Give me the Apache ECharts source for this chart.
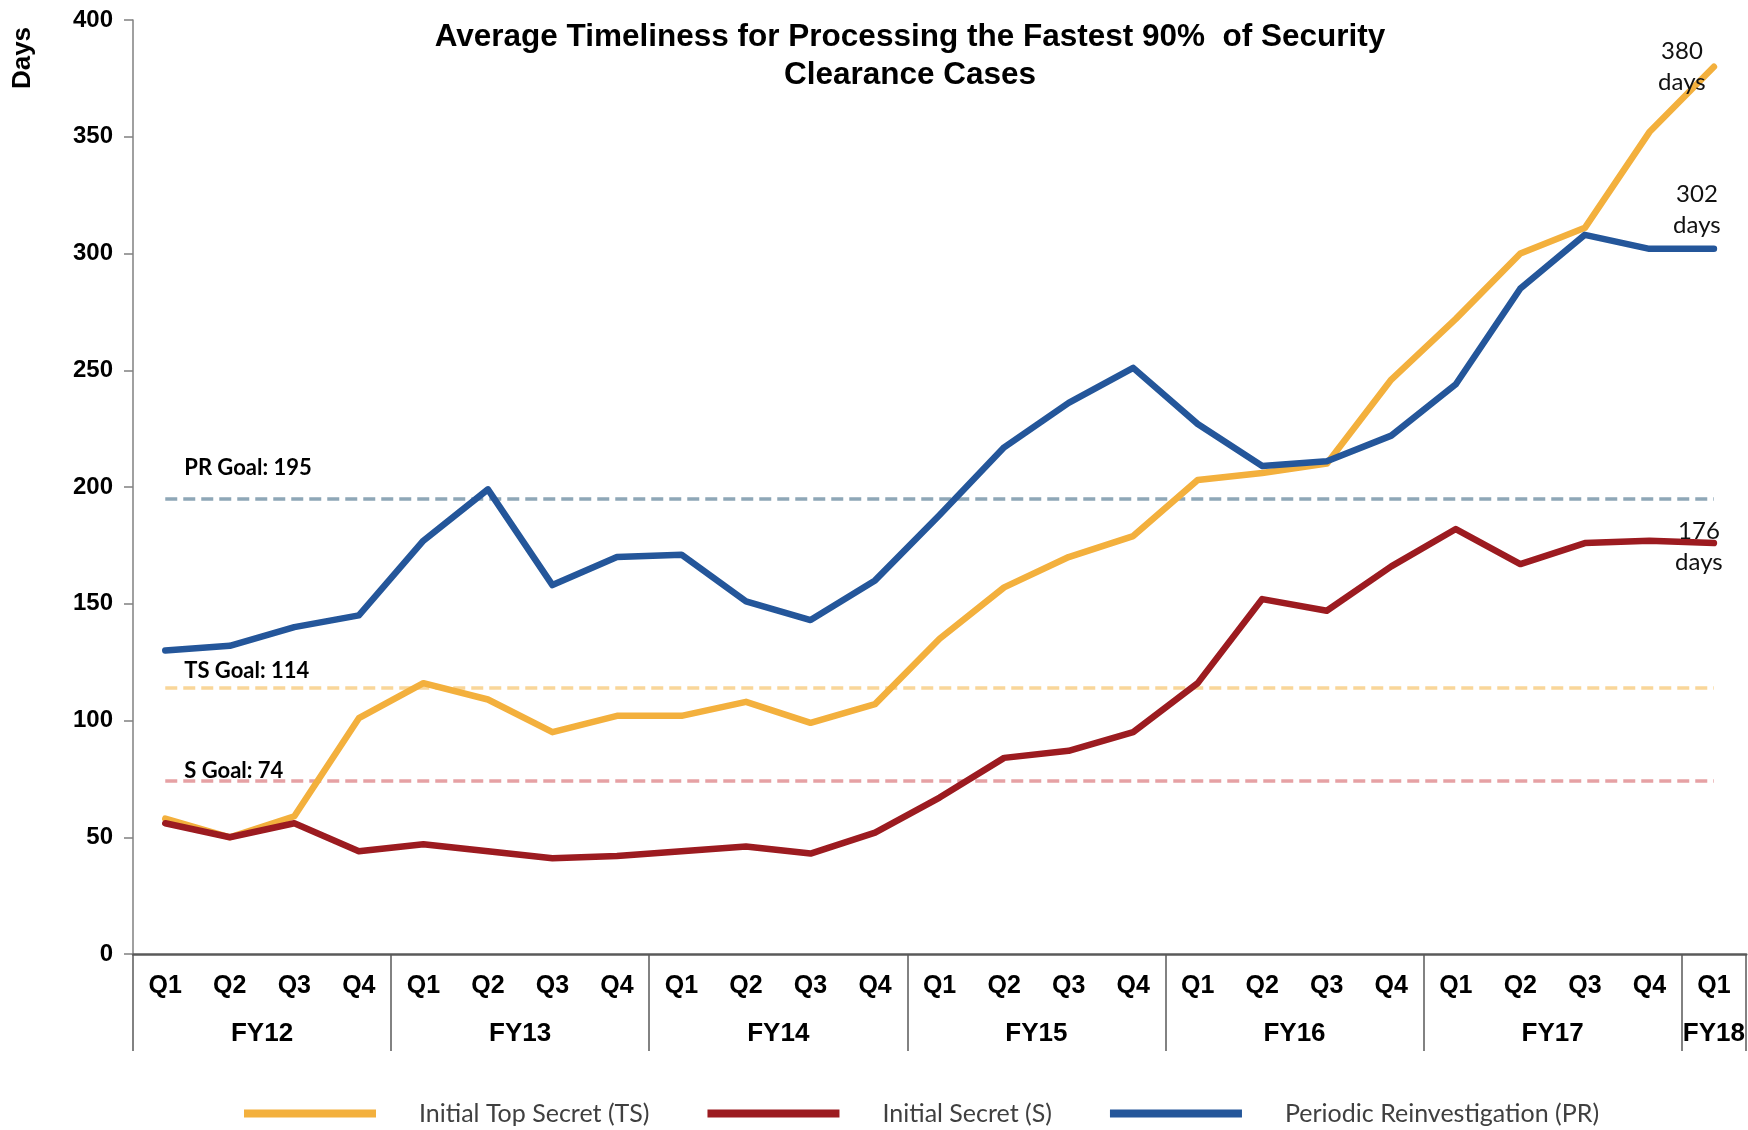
<!DOCTYPE html>
<html><head><meta charset="utf-8">
<script src="https://cdn.jsdelivr.net/npm/echarts@6/dist/echarts.min.js"></script>
<style>html,body{margin:0;padding:0;background:#fff}#c{width:1748px;height:1130px}</style>
</head><body><div id="c"></div>
<script>
const quarters = ['Q1','Q2','Q3','Q4','Q1','Q2','Q3','Q4','Q1','Q2','Q3','Q4','Q1','Q2','Q3','Q4','Q1','Q2','Q3','Q4','Q1','Q2','Q3','Q4','Q1'];
const fiscalYears = ['FY12','FY13','FY14','FY15','FY16','FY17','FY18'];
const quartersPerYear = [4,4,4,4,4,4,1];
const yTicks = [0,50,100,150,200,250,300,350,400];
const seriesNames = ['Initial Top Secret (TS)','Initial Secret (S)','Periodic Reinvestigation (PR)'];
const tsDays = [58,50,59,101,116,109,95,102,102,108,99,107,135,157,170,179,203,206,210,246,272,300,311,352,380];
const sDays  = [56,50,56,44,47,44,41,42,44,46,43,52,67,84,87,95,116,152,147,166,182,167,176,177,176];
const prDays = [130,132,140,145,177,199,158,170,171,151,143,160,188,217,236,251,227,209,211,222,244,285,308,302,302];
const goalLabels = ['TS Goal: 114','S Goal: 74','PR Goal: 195'];
const goalValues = [114,74,195];
const endLabels = ['380\ndays','176\ndays','302\ndays'];
const titleText = 'Average Timeliness for Processing the Fastest 90%  of Security\nClearance Cases';

const colors = ['#F3B03D','#9C1B20','#24569A'];
const goalColors = ['#F9D699','#E6A1A4','#8EA7B7'];
const boldFont = '"Liberation Sans", Arial, sans-serif';
const calFont = 'Lato, "Open Sans", sans-serif';

// group boundaries and centers for fiscal-year axis
const boundaries = [0]; const centers = [];
quartersPerYear.forEach(n => { const s = boundaries[boundaries.length-1]; centers.push(s + n/2); boundaries.push(s + n); });
const nCat = quarters.length;

const chart = echarts.init(document.getElementById('c'));
const allData = [tsDays, sDays, prDays];
const series = allData.map((d, i) => ({
  name: seriesNames[i], type: 'line', data: d, xAxisIndex: 0, yAxisIndex: 0,
  showSymbol: false, symbol: 'none', z: 5,
  lineStyle: { color: colors[i], width: 6.5, cap: 'round', join: 'round' },
  itemStyle: { color: colors[i] },
  markLine: {
    silent: true, symbol: 'none', z: 2,
    label: { show: false },
    lineStyle: { color: goalColors[i], type: [12, 6], width: 3.5 },
    data: [[{ coord: [0, goalValues[i]] }, { coord: [nCat - 1, goalValues[i]] }]]
  }
}));

chart.setOption({
  animation: false,
  backgroundColor: '#fff',
  grid: { left: 133, right: -2, top: 20, bottom: 176, containLabel: false },
  xAxis: [
    { type: 'category', data: quarters, boundaryGap: true, position: 'bottom',
      axisLine: { show: true, lineStyle: { color: '#5a5a5a', width: 2.5 } },
      axisTick: { show: false },
      axisLabel: { interval: 0, margin: 20, color: '#000', fontFamily: boldFont, fontWeight: 'bold', fontSize: 25 } },
    { type: 'value', min: 0, max: nCat, position: 'bottom',
      axisLine: { show: false }, splitLine: { show: false },
      axisTick: { show: true, customValues: boundaries, length: 97, lineStyle: { color: '#5a5a5a', width: 1.5 } },
      axisLabel: { show: true, customValues: centers, margin: 67, color: '#000', fontFamily: boldFont, fontWeight: 'bold', fontSize: 26,
        formatter: v => { const k = centers.indexOf(v); return k >= 0 ? fiscalYears[k] : ''; } } }
  ],
  yAxis: { type: 'value', min: yTicks[0], max: yTicks[yTicks.length-1], interval: 50,
    axisLine: { show: true, lineStyle: { color: '#808080', width: 1.5 } },
    axisTick: { show: true, length: 9, lineStyle: { color: '#808080', width: 1.5 } },
    splitLine: { show: false },
    axisLabel: { margin: 20, color: '#000', fontFamily: boldFont, fontWeight: 'bold', fontSize: 24 } },
  legend: { data: seriesNames, left: 239, top: 1096, icon: 'rect', itemWidth: 132, itemHeight: 8, itemGap: 58,
    textStyle: { fontFamily: calFont, fontSize: 25, color: '#404040', padding: [0, 0, 0, 38] } },
  series: series
});

// overlay texts positioned through the chart's own scales
const g = [];
g.push({ type: 'text', x: 910, y: 56, style: { text: titleText, font: 'bold 31.5px ' + boldFont, fill: '#000', textAlign: 'center', textVerticalAlign: 'middle', lineHeight: 38 } });
g.push({ type: 'text', x: 23, y: 58, rotation: Math.PI / 2, style: { text: 'Days', font: 'bold 26px ' + boldFont, fill: '#000', textAlign: 'center', textVerticalAlign: 'middle' } });
const goalOffsets = [17, 10, 31];
goalValues.forEach((v, i) => {
  const p = chart.convertToPixel({ xAxisIndex: 0, yAxisIndex: 0 }, [0, v]);
  g.push({ type: 'text', x: p[0] + 19, y: p[1] - goalOffsets[i], style: { text: goalLabels[i], font: 'bold 22px ' + calFont, fill: '#000', textAlign: 'left', textVerticalAlign: 'middle' } });
});
const endOffsets = [[-32, 0], [-15, 4], [-17, -39]];
allData.forEach((d, i) => {
  const p = chart.convertToPixel({ xAxisIndex: 0, yAxisIndex: 0 }, [d.length - 1, d[d.length - 1]]);
  g.push({ type: 'text', z: 10, x: p[0] + endOffsets[i][0], y: p[1] + endOffsets[i][1], style: { text: endLabels[i], font: '24px ' + calFont, fill: '#111', textAlign: 'center', textVerticalAlign: 'middle', lineHeight: 31 } });
});
chart.setOption({ graphic: g });
</script></body></html>
